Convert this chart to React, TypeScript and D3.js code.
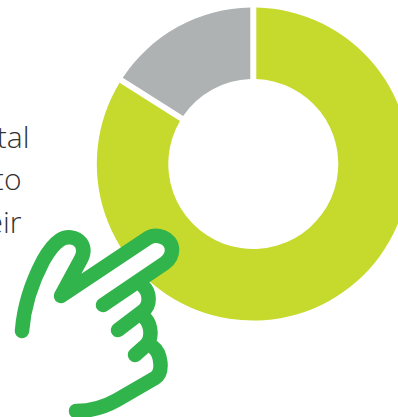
import React from "react";
import * as d3 from "d3";

const segmentNames = ["Majority", "Remainder"];
const segmentValues = [84, 16];
const segmentColors = ["#c6d92d", "#aeb2b2"];
const textLines = ["tal", "to", "eir"];
const textLineEnds = [29.5, 21.5, 21.5];

// Pointing-hand pictogram: the white fill behind the index finger, then its outline strokes.
const fingerFill = "M61 296 L148 238 C156 233 172 237 172 250 C172 256 169 260 165 263 L103 305 Z";
const handStrokes = [
  "M22 331 C24 305 32 282 43 261 C48 252 54 244 60 240 C66 236 76 236 81 243 C85 249 83 256 80 261 L61 296 L148 238 C156 233 172 237 172 250 C172 256 169 260 165 263 L103 305",
  "M143 286 C150 292 151 305 143 311 L118 330",
  "M145 318 C152 326 153 340 144 347 L135 355",
  "M153 347 C161 353 164 372 155 378 L117 400 C103 408 90 411 76 411",
];

export default function App() {
  const width = 398;
  const height = 417;
  const cx = 253.3;
  const cy = 164;
  const pie = d3.pie<number>().sort(null).startAngle(0).endAngle(2 * Math.PI);
  const arc = d3
    .arc<d3.PieArcDatum<number>>()
    .innerRadius(85)
    .outerRadius(156.5)
    .padRadius(100)
    .padAngle(0.06);
  const arcs = pie(segmentValues);

  return (
    <svg
      width={width}
      height={height}
      viewBox={`0 0 ${width} ${height}`}
      style={{ position: "absolute", left: 0, top: 0, display: "block", background: "#fff" }}
    >
      <g transform={`translate(${cx},${cy})`}>
        {arcs.map((d, i) => (
          <path key={segmentNames[i]} d={arc(d) ?? ""} fill={segmentColors[i]} />
        ))}
      </g>
      <g
        fontFamily="'Open Sans', sans-serif"
        fontWeight={300}
        fontSize={30}
        fill="#333333"
        textAnchor="end"
      >
        {textLines.map((line, i) => (
          <text key={line} x={textLineEnds[i]} y={148 + i * 42.3}>
            {line}
          </text>
        ))}
      </g>
      <path d={fingerFill} fill="#fff" />
      {handStrokes.map((d) => (
        <path
          key={d}
          d={d}
          fill="none"
          stroke="#31b44b"
          strokeWidth={14.5}
          strokeLinecap="round"
          strokeLinejoin="round"
        />
      ))}
    </svg>
  );
}
